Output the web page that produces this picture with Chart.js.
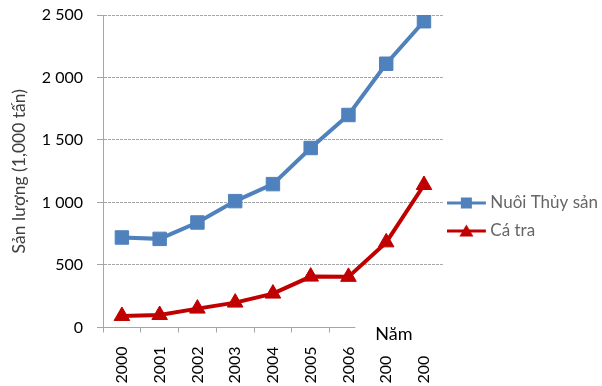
<!DOCTYPE html>
<html>
<head>
<meta charset="utf-8">
<script src="https://cdn.jsdelivr.net/npm/chart.js@4/dist/chart.umd.min.js"></script>
<style>
  html, body { margin: 0; padding: 0; background: #fff; }
  #wrap { width: 602px; height: 386px; }
</style>
</head>
<body>
<div id="wrap"><canvas id="chart"></canvas></div>
<script>
// ========================================
// DATA
// ========================================
const years = ['2000', '2001', '2002', '2003', '2004', '2005', '2006', '2007', '2008'];
const nuoiThuySan = [720, 709, 840, 1011, 1147, 1436, 1700, 2110, 2450];
const caTra = [92, 100, 151, 199, 271, 407, 405, 681, 1140];
const seriesNames = ['Nuôi Thủy sản', 'Cá tra'];
const yTitle = 'Sản lượng (1,000 tấn)';
const xTitle = 'Năm';

const BLUE = '#4F81BD';
const RED = '#C00000';
const FONT = 'Lato, "Open Sans", sans-serif';

// Legend symbol: short line with the marker in the middle
function legendSymbol(color, shape) {
    const c = document.createElement('canvas');
    c.width = 42;
    c.height = 16;
    const ctx = c.getContext('2d');
    ctx.strokeStyle = color;
    ctx.fillStyle = color;
    ctx.lineWidth = 3;
    ctx.beginPath();
    ctx.moveTo(0, 8);
    ctx.lineTo(39, 8);
    ctx.stroke();
    ctx.beginPath();
    if (shape === 'rect') {
        ctx.rect(14, 2.5, 11, 11);
    } else {
        ctx.moveTo(19.5, 1.5);
        ctx.lineTo(26.5, 13.5);
        ctx.lineTo(12.5, 13.5);
        ctx.closePath();
    }
    ctx.fill();
    return c;
}

// Axis title "Năm" sits on a white box over the end of the x axis
const xTitlePlugin = {
    id: 'xTitleBox',
    afterDraw(chart) {
        const ctx = chart.ctx;
        const x = chart.scales.x;
        const left = (x.getPixelForValue(6) + x.getPixelForValue(7)) / 2 - 12;
        const right = chart.chartArea.right + 6;
        const top = chart.chartArea.bottom - 6;
        ctx.save();
        ctx.fillStyle = '#fff';
        ctx.fillRect(left, top, right - left, 34.5);
        ctx.fillStyle = '#000';
        ctx.font = '18px ' + FONT;
        ctx.fillText(xTitle, left + 20, top + 18.5);
        ctx.restore();
    }
};

new Chart(document.getElementById('chart'), {
    type: 'line',
    data: {
        labels: years,
        datasets: [{
            label: seriesNames[0],
            data: nuoiThuySan,
            borderColor: BLUE,
            backgroundColor: BLUE,
            borderWidth: 4,
            pointStyle: 'rect',
            pointRadius: 9.5,
            pointBorderWidth: 1,
            tension: 0
        }, {
            label: seriesNames[1],
            data: caTra,
            borderColor: RED,
            backgroundColor: RED,
            borderWidth: 4,
            pointStyle: 'triangle',
            pointRadius: 9,
            pointBorderWidth: 1,
            tension: 0
        }]
    },
    options: {
        responsive: true,
        maintainAspectRatio: false,
        animation: false,
        layout: {
            padding: { top: 0, right: -6, bottom: -11.6, left: 0 }
        },
        plugins: {
            tooltip: { enabled: false },
            legend: {
                position: 'right',
                maxWidth: 180,
                title: {
                    display: true,
                    text: '',
                    font: { size: 15 },
                    padding: 9.2
                },
                labels: {
                    usePointStyle: true,
                    pointStyleWidth: 28,
                    padding: 11,
                    color: '#000',
                    font: { family: FONT, size: 17 },
                    generateLabels(chart) {
                        return chart.data.datasets.map((ds, i) => ({
                            text: ds.label,
                            datasetIndex: i,
                            pointStyle: legendSymbol(ds.borderColor, ds.pointStyle),
                            fillStyle: ds.borderColor,
                            strokeStyle: ds.borderColor,
                            lineWidth: 0,
                            hidden: false
                        }));
                    }
                }
            }
        },
        scales: {
            x: {
                offset: true,
                grid: {
                    offset: true,
                    drawOnChartArea: false,
                    drawTicks: true,
                    tickLength: 5,
                    color: '#A6A6A6'
                },
                border: { color: '#A6A6A6', width: 1 },
                ticks: {
                    minRotation: 90,
                    maxRotation: 90,
                    padding: 14,
                    color: '#000',
                    font: { family: FONT, size: 16 }
                }
            },
            y: {
                min: 0,
                max: 2500,
                afterFit(scale) {
                    scale.paddingTop = 15;
                },
                grid: {
                    color: '#A6A6A6',
                    tickLength: 6,
                    tickColor: '#A6A6A6'
                },
                border: { color: '#A6A6A6', width: 1, dash: [3, 1] },
                ticks: {
                    stepSize: 500,
                    padding: 14,
                    color: '#000',
                    font: { family: FONT, size: 16 },
                    callback: v => String(v).replace(/\B(?=(\d{3})+$)/g, ' ')
                },
                title: {
                    display: true,
                    text: yTitle,
                    color: '#404040',
                    font: { family: FONT, size: 17.5 },
                    padding: { top: 8.5, bottom: -1.7 }
                }
            }
        }
    },
    plugins: [xTitlePlugin]
});
</script>
</body>
</html>
